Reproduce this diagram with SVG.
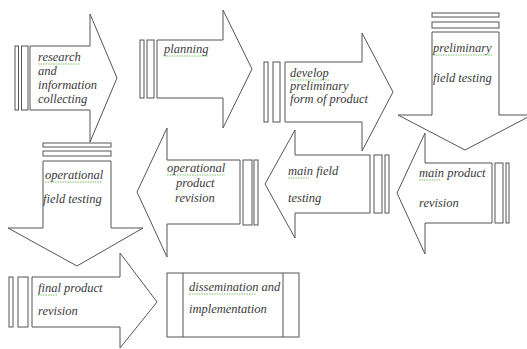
<svg xmlns="http://www.w3.org/2000/svg" width="527" height="349" viewBox="0 0 527 349">
<style>
.sh{fill:#fff;stroke:#555;stroke-width:1}
.t{font-family:'Liberation Serif','DejaVu Serif',serif;font-style:italic;font-size:12.5px;fill:#3a3a3a}
.sp{stroke:#7cbf6a;stroke-width:1;stroke-dasharray:1.5 1;fill:none}
</style>
<rect width="527" height="349" fill="#fff"/>
<g id="connectors"></g>
<g id="research">
<path class="sh" d="M30,46 H90 V14 L117,78 L90,142 V110 H30 Z"/>
<rect class="sh" x="15" y="46" width="3.5" height="64"/>
<rect class="sh" x="21.5" y="46" width="6.5" height="64"/>
<text class="t" font-family="Liberation Serif, serif" x="38" y="61">research</text>
<text class="t" font-family="Liberation Serif, serif" x="38" y="75">and</text>
<text class="t" font-family="Liberation Serif, serif" x="38" y="89">information</text>
<text class="t" font-family="Liberation Serif, serif" x="38" y="103">collecting</text>
<line class="sp" x1="38" y1="64" x2="80" y2="64"/>
</g>
<g id="planning">
<path class="sh" d="M157,40 H223 V10 L252,69 L223,128 V98 H157 Z"/>
<rect class="sh" x="140" y="40" width="4" height="58"/>
<rect class="sh" x="147" y="40" width="7" height="58"/>
<text class="t" font-family="Liberation Serif, serif" x="164" y="53">planning</text>
<line class="sp" x1="164" y1="56" x2="209" y2="56"/>
</g>
<g id="develop">
<path class="sh" d="M285,62 H362 V33 L393,92 L362,151 V122 H285 Z"/>
<rect class="sh" x="264" y="62" width="4" height="60"/>
<rect class="sh" x="273" y="62" width="7" height="60"/>
<text class="t" font-family="Liberation Serif, serif" x="290" y="77">develop</text>
<text class="t" font-family="Liberation Serif, serif" x="290" y="90">preliminary</text>
<text class="t" font-family="Liberation Serif, serif" x="290" y="103">form of product</text>
<line class="sp" x1="290" y1="80" x2="329" y2="80"/>
</g>
<g id="preliminary">
<path class="sh" d="M432,32 V115 H398 L465,150 L532,115 H499 V32 Z"/>
<rect class="sh" x="432" y="13" width="67" height="4"/>
<rect class="sh" x="432" y="22" width="67" height="6"/>
<text class="t" font-family="Liberation Serif, serif" x="433" y="52">preliminary</text>
<text class="t" font-family="Liberation Serif, serif" x="433" y="82">field testing</text>
<line class="sp" x1="433" y1="55" x2="493" y2="55"/>
</g>
<g id="mainproduct">
<path class="sh" d="M492,163 H425 V133 L397,193 L425,254 V223 H492 Z"/>
<rect class="sh" x="495" y="163" width="8" height="60"/>
<rect class="sh" x="506" y="163" width="3" height="60"/>
<text class="t" font-family="Liberation Serif, serif" x="419" y="177">main product</text>
<text class="t" font-family="Liberation Serif, serif" x="419" y="207">revision</text>
<line class="sp" x1="419" y1="180" x2="440" y2="180"/>
</g>
<g id="mainfield">
<path class="sh" d="M370,155 H295 V130 L265,184 L295,238 V213 H370 Z"/>
<rect class="sh" x="374" y="155" width="8" height="58"/>
<rect class="sh" x="385" y="155" width="4" height="58"/>
<text class="t" font-family="Liberation Serif, serif" x="288" y="175">main field</text>
<text class="t" font-family="Liberation Serif, serif" x="288" y="202">testing</text>
<line class="sp" x1="288" y1="178" x2="309" y2="178"/>
</g>
<g id="opproduct">
<path class="sh" d="M240,160 H167 V128 L137,192 L167,257 V224 H240 Z"/>
<rect class="sh" x="243" y="160" width="9" height="65"/>
<rect class="sh" x="254" y="160" width="4" height="65"/>
<text class="t" font-family="Liberation Serif, serif" x="167" y="172">operational</text>
<text class="t" font-family="Liberation Serif, serif" x="176" y="187">product</text>
<text class="t" font-family="Liberation Serif, serif" x="175" y="202">revision</text>
<line class="sp" x1="167" y1="175" x2="225" y2="175"/>
</g>
<g id="opfield">
<path class="sh" d="M43,161 V228 H8 L77,266 L143,228 H111 V161 Z"/>
<rect class="sh" x="43" y="143" width="68" height="4"/>
<rect class="sh" x="43" y="151" width="68" height="5"/>
<text class="t" font-family="Liberation Serif, serif" x="45" y="179">operational</text>
<text class="t" font-family="Liberation Serif, serif" x="43" y="203">field testing</text>
<line class="sp" x1="45" y1="182" x2="102" y2="182"/>
</g>
<g id="final">
<path class="sh" d="M32,277 H120 V253 L157,302 L120,348 V327 H32 Z"/>
<rect class="sh" x="9" y="277" width="4" height="50"/>
<rect class="sh" x="18" y="277" width="10" height="50"/>
<text class="t" font-family="Liberation Serif, serif" x="38" y="292">final product</text>
<text class="t" font-family="Liberation Serif, serif" x="38" y="315">revision</text>
<line class="sp" x1="38" y1="295" x2="57" y2="295"/>
</g>
<g id="dissemination">
<rect class="sh" x="167" y="273" width="132" height="64"/>
<line class="sh" x1="183" y1="273" x2="183" y2="337"/>
<line class="sh" x1="283" y1="273" x2="283" y2="337"/>
<text class="t" font-family="Liberation Serif, serif" x="189" y="291">dissemination and</text>
<text class="t" font-family="Liberation Serif, serif" x="189" y="313">implementation</text>
<line class="sp" x1="189" y1="294" x2="256" y2="294"/>
</g>
</svg>
